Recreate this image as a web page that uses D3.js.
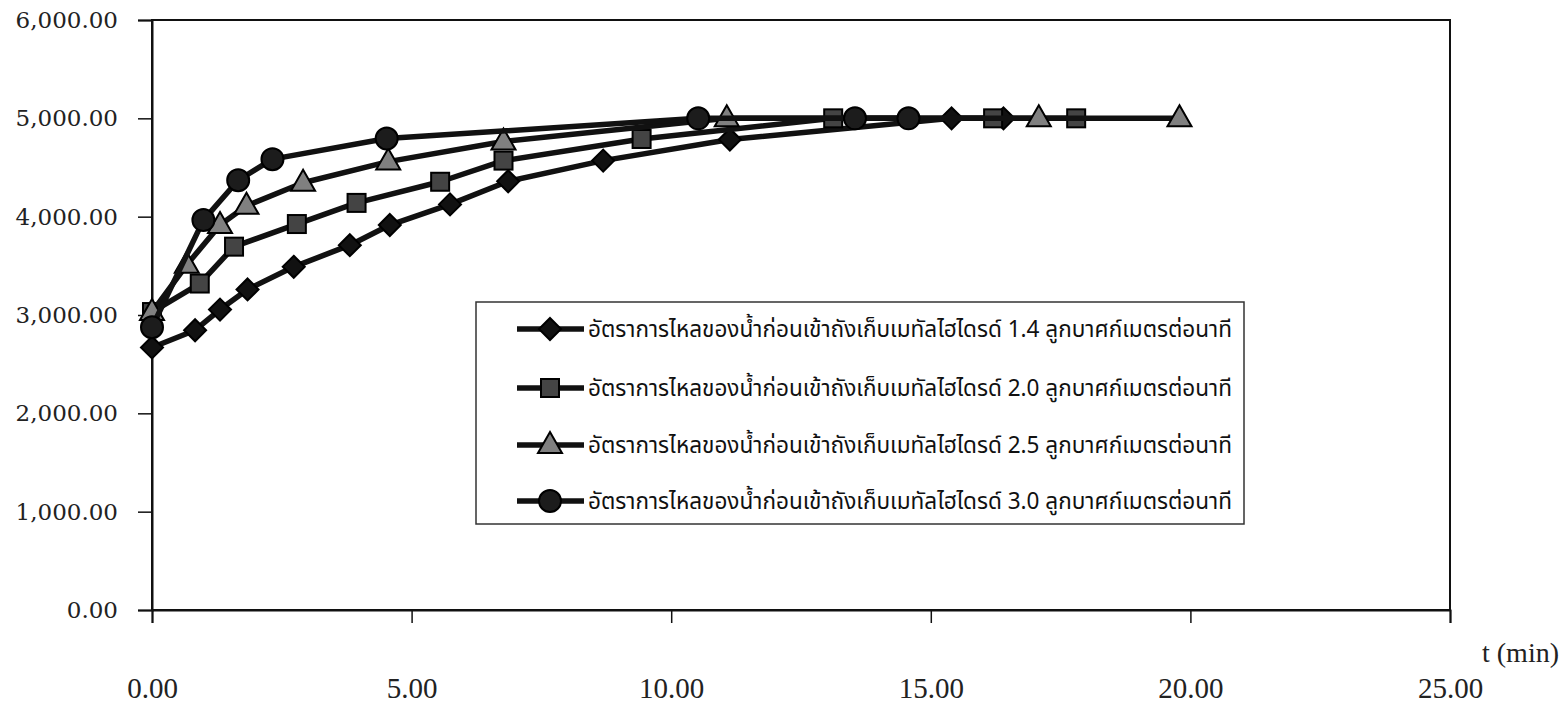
<!DOCTYPE html>
<html>
<head>
<meta charset="utf-8">
<script src="https://cdn.jsdelivr.net/npm/d3@7"></script>
<style>
  html, body { margin: 0; padding: 0; background: #ffffff; }
  svg { display: block; }
</style>
</head>
<body>
<svg id="chart" width="1566" height="705"></svg>
<script>
// Inlet water flow rate series: time (min) vs value
const seriesNames = [
  "อัตราการไหลของน้ำก่อนเข้าถังเก็บเมทัลไฮไดรด์ 1.4 ลูกบาศก์เมตรต่อนาที",
  "อัตราการไหลของน้ำก่อนเข้าถังเก็บเมทัลไฮไดรด์ 2.0 ลูกบาศก์เมตรต่อนาที",
  "อัตราการไหลของน้ำก่อนเข้าถังเก็บเมทัลไฮไดรด์ 2.5 ลูกบาศก์เมตรต่อนาที",
  "อัตราการไหลของน้ำก่อนเข้าถังเก็บเมทัลไฮไดรด์ 3.0 ลูกบาศก์เมตรต่อนาที"
];
const markerTypes = ["diamond", "square", "triangle", "circle"];

const t14 = [0, 0.83, 1.31, 1.84, 2.73, 3.81, 4.58, 5.74, 6.86, 8.69, 11.13, 15.40, 16.40];
const v14 = [2670, 2845, 3055, 3260, 3490, 3710, 3915, 4125, 4360, 4570, 4785, 5000, 5000];

const t20 = [0, 0.92, 1.58, 2.79, 3.94, 5.55, 6.77, 9.43, 13.12, 16.20, 17.80];
const v20 = [3030, 3320, 3695, 3925, 4140, 4355, 4570, 4790, 5000, 5000, 5000];

const t25 = [0, 0.67, 1.31, 1.82, 2.91, 4.55, 6.77, 11.07, 17.08, 19.79];
const v25 = [3030, 3510, 3915, 4110, 4345, 4560, 4765, 5000, 5000, 5000];

const t30 = [0, 0.99, 1.66, 2.32, 4.52, 10.52, 13.54, 14.57];
const v30 = [2875, 3965, 4370, 4585, 4795, 5000, 5000, 5000];

const xTicks = [0, 5, 10, 15, 20, 25];
const yTicks = [0, 1000, 2000, 3000, 4000, 5000, 6000];
const xTitle = "t (min)";

const series = [
  { name: seriesNames[0], marker: markerTypes[0], pts: t14.map((t, i) => [t, v14[i]]) },
  { name: seriesNames[1], marker: markerTypes[1], pts: t20.map((t, i) => [t, v20[i]]) },
  { name: seriesNames[2], marker: markerTypes[2], pts: t25.map((t, i) => [t, v25[i]]) },
  { name: seriesNames[3], marker: markerTypes[3], pts: t30.map((t, i) => [t, v30[i]]) }
];

const svg = d3.select("#chart");
const plot = { left: 152, right: 1450, top: 20, bottom: 610 };

const x = d3.scaleLinear().domain([0, 25]).range([plot.left, plot.right]);
const y = d3.scaleLinear().domain([0, 6000]).range([plot.bottom, plot.top]);

const fmt = d3.format(",.2f");
const ink = "#111";

// Plot frame
svg.append("rect")
  .attr("x", plot.left).attr("y", plot.top)
  .attr("width", plot.right - plot.left).attr("height", plot.bottom - plot.top)
  .attr("fill", "none").attr("stroke", ink).attr("stroke-width", 2);

// Y axis
const yAxis = svg.append("g")
  .attr("transform", `translate(${plot.left},0)`)
  .call(d3.axisLeft(y).tickValues(yTicks).tickFormat(fmt).tickSize(14).tickPadding(20));
yAxis.select(".domain").attr("stroke", ink).attr("stroke-width", 2);
yAxis.selectAll(".tick line").attr("stroke", ink).attr("stroke-width", 1.5);
yAxis.selectAll(".tick text")
  .attr("fill", "#222")
  .style("font-family", "'DejaVu Serif', serif")
  .style("font-size", "23px");

// X axis (labels set well below the axis line)
const xAxis = svg.append("g")
  .attr("transform", `translate(0,${plot.bottom})`)
  .call(d3.axisBottom(x).tickValues(xTicks).tickFormat(fmt).tickSize(13));
xAxis.select(".domain").attr("stroke", ink).attr("stroke-width", 2);
xAxis.selectAll(".tick line").attr("stroke", ink).attr("stroke-width", 1.5);
xAxis.selectAll(".tick text")
  .attr("dy", null)
  .attr("y", 88)
  .attr("fill", "#222")
  .style("font-family", "'Liberation Serif', serif")
  .style("font-size", "29px");

svg.append("text")
  .attr("x", 1482).attr("y", 662)
  .attr("fill", "#222")
  .style("font-family", "'Liberation Serif', serif")
  .style("font-size", "28px")
  .text(xTitle);

// Marker drawing
const markerStyle = {
  diamond: { fill: "#111" },
  square: { fill: "#444" },
  triangle: { fill: "#808080" },
  circle: { fill: "#1c1c1c" }
};
function drawMarker(g, type, cx, cy) {
  const st = markerStyle[type];
  let el;
  if (type === "circle") {
    el = g.append("circle").attr("cx", cx).attr("cy", cy).attr("r", 11);
  } else if (type === "square") {
    el = g.append("rect").attr("x", cx - 9).attr("y", cy - 9).attr("width", 18).attr("height", 18);
  } else if (type === "diamond") {
    el = g.append("path").attr("d", `M${cx},${cy - 11}L${cx + 11},${cy}L${cx},${cy + 11}L${cx - 11},${cy}Z`);
  } else {
    el = g.append("path").attr("d", `M${cx},${cy - 13}L${cx + 12},${cy + 8}L${cx - 12},${cy + 8}Z`);
  }
  el.attr("fill", st.fill).attr("stroke", "#000").attr("stroke-width", 2);
}

const line = d3.line().x(d => x(d[0])).y(d => y(d[1]));

series.forEach(s => {
  const g = svg.append("g");
  g.append("path")
    .attr("d", line(s.pts))
    .attr("fill", "none")
    .attr("stroke", ink)
    .attr("stroke-width", 5.5)
    .attr("stroke-linejoin", "round");
  s.pts.forEach(p => drawMarker(g, s.marker, x(p[0]), y(p[1])));
});

// Legend
const legend = svg.append("g");
legend.append("rect")
  .attr("x", 476).attr("y", 302).attr("width", 768).attr("height", 222)
  .attr("fill", "#fff").attr("stroke", "#333").attr("stroke-width", 1.5);
const rowY = [329, 388, 445, 501];
series.forEach((s, i) => {
  const yy = rowY[i];
  legend.append("line")
    .attr("x1", 517).attr("x2", 584).attr("y1", yy).attr("y2", yy)
    .attr("stroke", ink).attr("stroke-width", 5.5);
  drawMarker(legend, s.marker, 550, yy);
  legend.append("text")
    .attr("x", 588).attr("y", yy + 8)
    .attr("fill", "#111")
    .attr("textLength", 644)
    .attr("lengthAdjust", "spacingAndGlyphs")
    .style("font-family", "'Noto Sans Thai', 'Noto Serif Thai', 'Tlwg Typo', 'Loma', 'Garuda', 'Norasi', sans-serif")
    .style("font-size", "23px")
    .text(s.name);
});
</script>
</body>
</html>
